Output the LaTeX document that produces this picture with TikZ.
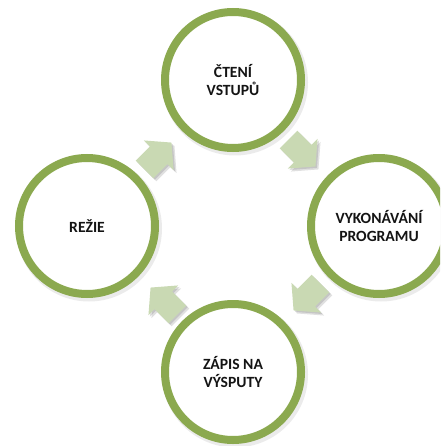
\documentclass[tikz,border=0pt]{standalone}
\usepackage{fontspec}
\setmainfont{Carlito}
\definecolor{ringgreen}{HTML}{8BA94F}
\definecolor{arrowgreen}{HTML}{C9D9B3}
\definecolor{labeltext}{HTML}{141414}
\begin{document}
\begin{tikzpicture}[x=1pt, y=-1pt,
  stage/.style={circle, draw=ringgreen, line width=8pt, fill=white,
    minimum size=136pt, inner sep=0pt, align=center,
    font=\fontsize{15.6}{18.5}\selectfont\bfseries, text=labeltext},
  stageshadow/.style={circle, fill=black, opacity=0.08,
    minimum size=146pt, inner sep=0pt},
  arrowbody/.style={fill=arrowgreen},
  arrowshadow/.style={fill=black, opacity=0.12}]
\useasboundingbox (0,0) rectangle (440,446);
\clip (0,0) rectangle (440,446);

% soft shadows under the four stages
\foreach \px/\py/\nm in {233/80/a,379/226/b,233/372/c,87/226/d}
  \node[stageshadow] (shadow-\nm) at (\px+2,\py+2.5) {};

% the four stages of the cycle
\node[stage] (read)  at (233,80)  {ČTENÍ\\VSTUPŮ};
\node[stage] (exec)  at (379,226) {VYKONÁVÁNÍ\\PROGRAMU};
\node[stage] (write) at (233,372) {ZÁPIS NA\\VÝSPUTY};
\node[stage] (admin) at (87,226)  {REŽIE};

% block arrows between the stages, running clockwise
\newcommand\cyclearrow[3]{%
  \foreach \d in {1.5,3}
    \fill[arrowshadow, shift={(#1+\d,#2+\d)}, rotate=#3]
      (-19,-12.5) -- (1,-12.5) -- (1,-21) -- (19,0) -- (1,21) -- (1,12.5) -- (-19,12.5) -- cycle;
  \fill[arrowbody, shift={(#1,#2)}, rotate=#3]
    (-19,-12.5) -- (1,-12.5) -- (1,-21) -- (19,0) -- (1,21) -- (1,12.5) -- (-19,12.5) -- cycle;
}
\cyclearrow{302}{153}{-45}
\cyclearrow{307}{297}{-135}
\cyclearrow{164}{301}{135}
\cyclearrow{158}{156}{45}
\end{tikzpicture}
\end{document}
